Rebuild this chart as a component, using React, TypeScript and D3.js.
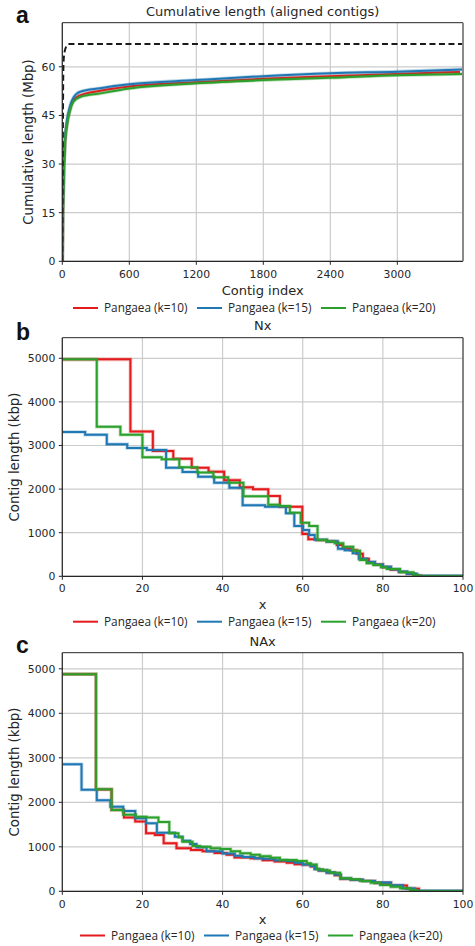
import * as d3 from "d3";

const W = 475;
const H = 946;

const seriesNames = ["Pangaea (k=10)", "Pangaea (k=15)", "Pangaea (k=20)"];
const seriesColors = ["#e41a1c", "#1f77b4", "#2ca02c"];

// a: cumulative length (Mbp) vs contig index
const refIndex = [0, 4, 8, 12, 20, 35, 55, 3588];
const refLength = [0, 30, 55, 62, 64.5, 66.2, 67, 67];
const cumIndex = [0, 5, 10, 25, 40, 70, 100, 160, 340, 600, 1200, 1800, 2400, 3000, 3588];
const cumIndexK10 = [0, 5, 10, 25, 40, 70, 100, 160, 340, 600, 1200, 1800, 2400, 3000, 3560];
const cumK10 = [0, 14, 23, 37, 42, 47, 49.7, 51.2, 52.6, 53.9, 55.2, 56.3, 57.1, 57.8, 58.4];
const cumK15 = [0, 15, 24, 38, 43, 48, 50.5, 52.3, 53.4, 54.6, 55.9, 57.1, 58.0, 58.5, 59.2];
const cumK20 = [0, 13, 22, 37, 41.5, 46.6, 49.2, 50.7, 51.8, 53.3, 54.9, 55.9, 56.6, 57.4, 57.8];
const cumTicksX = [0, 600, 1200, 1800, 2400, 3000];
const cumTicksY = [0, 15, 30, 45, 60];

// b: Nx (step starts / kbp)
const nxK10X = [0, 17.0, 22.6, 27.7, 32.3, 36.5, 40.4, 44.3, 47.6, 51.4, 54.3, 59.9, 61.4, 63.5, 66, 68.5, 70, 72, 73.5, 75, 76.5, 78, 80, 82, 84, 86, 88, 89.5, 100];
const nxK10 = [4975, 3320, 2875, 2695, 2490, 2400, 2205, 2040, 1995, 1842, 1596, 970, 849, 830, 800, 720, 640, 600, 520, 400, 320, 270, 210, 150, 100, 60, 20, 0, 0];
const nxK15X = [0, 5.7, 11.1, 16.2, 21.1, 25.9, 30.0, 33.9, 37.9, 41.7, 45.0, 50.6, 55.8, 57.9, 60.1, 61.6, 63.0, 66, 68.8, 70.5, 72.5, 74, 76, 78, 80, 82, 84, 86, 88.5, 100];
const nxK15 = [3310, 3248, 3027, 2943, 2897, 2491, 2392, 2284, 2147, 2032, 1630, 1596, 1445, 1154, 1060, 950, 840, 800, 630, 600, 530, 400, 330, 270, 220, 160, 110, 60, 10, 0];
const nxK20X = [0, 8.6, 14.5, 20.0, 24.8, 29.2, 33.7, 37.7, 41.4, 45.2, 51.4, 54.3, 56.8, 59.5, 61.6, 63.7, 66, 68, 70.1, 72.6, 74.3, 76, 77.6, 79.5, 81, 84.3, 87.6, 88.8, 100];
const nxK20 = [4975, 3430, 3248, 2729, 2683, 2500, 2380, 2270, 2147, 1835, 1643, 1612, 1459, 1229, 1154, 833, 800, 760, 679, 588, 374, 300, 259, 210, 167, 92, 30, 0, 0];

// c: NAx
const naxK10X = [0, 8.4, 12.3, 15.4, 18.2, 20.9, 23.1, 25.3, 28.5, 32.1, 35, 38, 41, 43, 47, 50, 53, 56, 58, 60, 62, 63, 64, 66, 68, 69.5, 72, 75, 78, 82, 86, 89, 100];
const naxK10 = [4880, 2290, 1829, 1657, 1567, 1304, 1267, 1079, 967, 930, 900, 860, 820, 760, 740, 700, 670, 640, 610, 600, 560, 500, 470, 420, 360, 280, 260, 230, 190, 130, 60, 0, 0];
const naxK15X = [0, 4.8, 8.6, 12.0, 15.2, 18.2, 20.9, 23.6, 28.1, 30, 31.9, 33.5, 36, 40, 43, 45, 48, 50, 53, 56, 58, 60, 62, 63, 64, 66, 68, 69.5, 72, 75, 78, 82, 85, 88, 100];
const naxK15 = [2854, 2283, 2045, 1902, 1805, 1640, 1528, 1317, 1227, 1137, 1063, 989, 900, 850, 800, 770, 740, 730, 700, 680, 640, 600, 570, 500, 470, 420, 380, 290, 260, 230, 195, 135, 65, 10, 0];
const naxK20X = [0, 8.4, 12.3, 15.2, 18.4, 21.0, 24.0, 26.7, 29.0, 30.0, 32.5, 34.4, 37, 39.4, 42, 44.4, 47, 49.3, 52, 54.3, 58.5, 61, 62, 63.5, 65, 66.8, 69.3, 72, 74.3, 77, 79.3, 82, 84.3, 86.8, 88.4, 100];
const naxK20 = [4880, 2292, 1827, 1722, 1677, 1657, 1557, 1303, 1213, 1115, 1018, 1002, 970, 950, 900, 854, 820, 790, 755, 703, 681, 629, 600, 494, 470, 418, 292, 270, 231, 190, 142, 100, 67, 29, 0, 0];

const pctTicks = [0, 20, 40, 60, 80, 100];
const kbpTicks = [0, 1000, 2000, 3000, 4000, 5000];

const font = "DejaVu Sans";
const legendFont = "Open Sans";
const ink = "#262626";

type Series = {
  xs: number[];
  ys: number[];
  color: string;
  curve: d3.CurveFactory;
  dash?: string;
  width?: number;
};

type PanelProps = {
  top: number;
  bottom: number;
  xMax: number;
  yMax: number;
  xTicks: number[];
  yTicks: number[];
  title: string;
  titleY: number;
  tag: string;
  tagY: number;
  xLabel: string;
  xLabelY: number;
  yLabel: string;
  yLabelX: number;
  tickLabelY: number;
  legendY: number;
  legendX0: number;
  series: Series[];
  grayRight?: boolean;
};

const left = 62.3;
const right = 463;

function Panel(p: PanelProps) {
  const x = d3.scaleLinear().domain([0, p.xMax]).range([left, right]);
  const y = d3.scaleLinear().domain([0, p.yMax]).range([p.bottom, p.top]);
  const cx = (left + right) / 2;
  const cy = (p.top + p.bottom) / 2;

  return (
    <g>
      {/* grid */}
      {p.xTicks.map((t) => (
        <line key={"gx" + t} x1={x(t)} x2={x(t)} y1={p.top} y2={p.bottom} stroke="#cccccc" strokeWidth={1.2} />
      ))}
      {p.yTicks.map((t) => (
        <line key={"gy" + t} x1={left} x2={right} y1={y(t)} y2={y(t)} stroke="#cccccc" strokeWidth={1.2} />
      ))}

      <defs>
        <clipPath id={"clip-" + p.tag}>
          <rect x={left} y={p.top} width={right - left} height={p.bottom - p.top} />
        </clipPath>
      </defs>
      <g clipPath={`url(#clip-${p.tag})`}>
        {p.series.map((s, i) => {
          const line = d3
            .line<number>()
            .x((_, j) => x(s.xs[j]))
            .y((d) => y(d))
            .curve(s.curve);
          return (
            <g key={i}>
              {!s.dash && (
                <path d={line(s.ys) || ""} fill="none" stroke={s.color} strokeOpacity={0.3} strokeWidth={3.6} />
              )}
              <path
                d={line(s.ys) || ""}
                fill="none"
                stroke={s.color}
                strokeWidth={s.width ?? 2}
                strokeDasharray={s.dash}
                strokeLinejoin="miter"
              />
            </g>
          );
        })}
      </g>

      {/* spines */}
      <line x1={left} x2={right} y1={p.top} y2={p.top} stroke={ink} strokeWidth={1} />
      <line x1={left} x2={right} y1={p.bottom} y2={p.bottom} stroke={ink} strokeWidth={1.2} />
      <line x1={left} x2={left} y1={p.top} y2={p.bottom} stroke={ink} strokeWidth={1.2} />
      <line
        x1={right}
        x2={right}
        y1={p.top}
        y2={p.bottom}
        stroke={p.grayRight ? "#8a8a8a" : ink}
        strokeWidth={p.grayRight ? 2 : 1}
      />

      {/* ticks */}
      {p.xTicks.map((t) => (
        <g key={"tx" + t}>
          <line x1={x(t)} x2={x(t)} y1={p.bottom} y2={p.bottom + 3.5} stroke={ink} strokeWidth={1} />
          <text x={x(t)} y={p.tickLabelY} textAnchor="middle" fontFamily={font} fontSize={10.8} fill={ink}>
            {t}
          </text>
        </g>
      ))}
      {p.yTicks.map((t) => (
        <g key={"ty" + t}>
          <line x1={left - 3.5} x2={left} y1={y(t)} y2={y(t)} stroke={ink} strokeWidth={1} />
          <text
            x={left - 7}
            y={y(t)}
            dy="0.36em"
            textAnchor="end"
            fontFamily={font}
            fontSize={10.8}
            fill={ink}
          >
            {t}
          </text>
        </g>
      ))}

      {/* labels */}
      <text x={cx} y={p.titleY} textAnchor="middle" fontFamily={font} fontSize={13} fill={ink}>
        {p.title}
      </text>
      <text x={16} y={p.tagY} fontFamily="Liberation Sans" fontWeight="bold" fontSize={23} fill="#111">
        {p.tag}
      </text>
      <text x={cx} y={p.xLabelY} textAnchor="middle" fontFamily={font} fontSize={13} fill={ink}>
        {p.xLabel}
      </text>
      <text
        transform={`translate(${p.yLabelX},${cy}) rotate(-90)`}
        textAnchor="middle"
        dy="0.36em"
        fontFamily={font}
        fontSize={13.3}
        fill={ink}
      >
        {p.yLabel}
      </text>

      {/* legend */}
      {seriesNames.map((name, i) => {
        const lx = p.legendX0 + i * 124;
        return (
          <g key={name}>
            <line x1={lx} x2={lx + 25} y1={p.legendY} y2={p.legendY} stroke={seriesColors[i]} strokeWidth={2} />
            <text
              x={lx + 31}
              y={p.legendY}
              dy="0.35em"
              fontFamily={legendFont}
              fontSize={11.8}
              fill={ink}
            >
              {name}
            </text>
          </g>
        );
      })}
    </g>
  );
}

export default function App() {
  const mono = d3.curveMonotoneX;
  const step = d3.curveStepAfter;
  return (
    <div style={{ position: "absolute", left: 0, top: 0, width: W, height: H, background: "#fff" }}>
      <svg width={W} height={H} style={{ display: "block" }}>
        <Panel
          top={22.7}
          bottom={261.3}
          xMax={3588}
          yMax={73.6}
          xTicks={cumTicksX}
          yTicks={cumTicksY}
          title="Cumulative length (aligned contigs)"
          titleY={15.5}
          tag="a"
          tagY={23}
          xLabel="Contig index"
          xLabelY={295}
          yLabel="Cumulative length (Mbp)"
          yLabelX={28}
          tickLabelY={278}
          legendY={308}
          legendX0={73}
          grayRight
          series={[
            { xs: cumIndexK10, ys: cumK10, color: seriesColors[0], curve: mono },
            { xs: cumIndex, ys: cumK15, color: seriesColors[1], curve: mono },
            { xs: cumIndex, ys: cumK20, color: seriesColors[2], curve: mono },
            { xs: refIndex, ys: refLength, color: "#1a1a1a", curve: mono, dash: "6,3.5", width: 2 },
          ]}
        />
        <Panel
          top={337.7}
          bottom={576.3}
          xMax={100}
          yMax={5472}
          xTicks={pctTicks}
          yTicks={kbpTicks}
          title="Nx"
          titleY={330}
          tag="b"
          tagY={340}
          xLabel="x"
          xLabelY={609}
          yLabel="Contig length (kbp)"
          yLabelX={14}
          tickLabelY={592}
          legendY={621.7}
          legendX0={73}
          series={[
            { xs: nxK10X, ys: nxK10, color: seriesColors[0], curve: step },
            { xs: nxK15X, ys: nxK15, color: seriesColors[1], curve: step },
            { xs: nxK20X, ys: nxK20, color: seriesColors[2], curve: step },
          ]}
        />
        <Panel
          top={652.7}
          bottom={891.3}
          xMax={100}
          yMax={5362}
          xTicks={pctTicks}
          yTicks={kbpTicks}
          title="NAx"
          titleY={645.5}
          tag="c"
          tagY={653}
          xLabel="x"
          xLabelY={923.5}
          yLabel="Contig length (kbp)"
          yLabelX={14}
          tickLabelY={908}
          legendY={935.5}
          legendX0={80}
          series={[
            { xs: naxK10X, ys: naxK10, color: seriesColors[0], curve: step },
            { xs: naxK15X, ys: naxK15, color: seriesColors[1], curve: step },
            { xs: naxK20X, ys: naxK20, color: seriesColors[2], curve: step },
          ]}
        />
      </svg>
    </div>
  );
}
